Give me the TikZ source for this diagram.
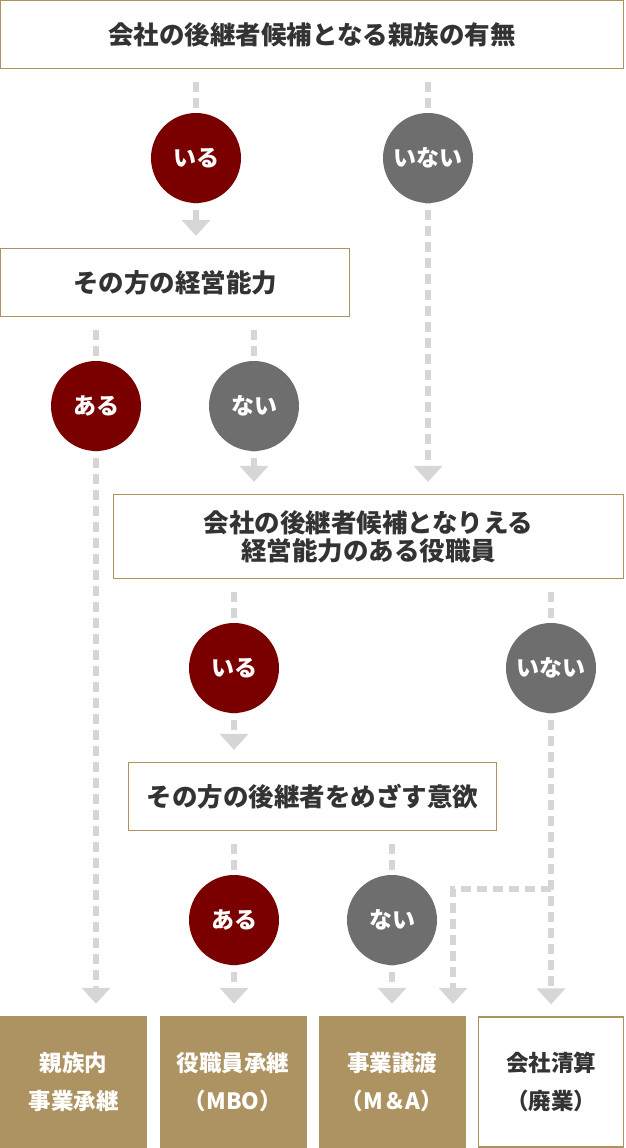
\documentclass[tikz,border=0pt]{standalone}
\usepackage{fontspec}
\setmainfont{Noto Sans CJK JP}
\usetikzlibrary{arrows.meta}
\definecolor{gold}{HTML}{AD9361}
\definecolor{wine}{HTML}{7A0000}
\definecolor{slate}{HTML}{6E6E6E}
\definecolor{lightline}{HTML}{D6D6D6}
\definecolor{ink}{HTML}{333333}
\pgfdeclarelayer{bg}
\pgfsetlayers{bg,main}
\begin{document}
\begin{tikzpicture}[x=1pt,y=-1pt,
  qbox/.style={draw=gold,line width=1.2pt,fill=white,text=ink,font=\fontsize{25.5}{28}\selectfont\bfseries,align=center,inner sep=0pt},
  ans/.style={circle,minimum size=90pt,inner sep=0pt,text=white,font=\fontsize{23}{26}\selectfont\bfseries},
  yesc/.style={ans,fill=wine},
  noc/.style={ans,fill=slate},
  flow/.style={draw=lightline,line width=6pt,dash pattern=on 10pt off 6pt,-{Triangle[width=28pt,length=16pt]},shorten <=13pt,shorten >=12pt},
  res/.style={minimum width=147pt,minimum height=132pt,inner sep=0pt,align=center,font=\fontsize{22.5}{38}\selectfont\bfseries}]
\useasboundingbox (0,0) rectangle (625,1148);

\node[qbox,minimum width=623pt,minimum height=68pt] (top) at (312,34.5) {会社の後継者候補となる親族の有無};
\node[qbox,minimum width=349pt,minimum height=68pt] (q2) at (175,282.5) {その方の経営能力};
\node[qbox,minimum width=510pt,minimum height=84pt] (q3) at (368.5,536.5) {会社の後継者候補となりえる\\経営能力のある役職員};
\node[qbox,minimum width=368pt,minimum height=68pt] (q4) at (312.5,796.5) {その方の後継者をめざす意欲};

\node[res,fill=gold,text=white] (r1) at (73.5,1082) {親族内\\事業承継};
\node[res,fill=gold,text=white] (r2) at (233,1082) {役職員承継\\（MBO）};
\node[res,fill=gold,text=white] (r3) at (392,1082) {事業譲渡\\（M＆A）};
\node[res,draw=gold,line width=1.2pt,fill=white,text=ink,minimum width=145pt,minimum height=130pt] (r4) at (551,1082) {会社清算\\（廃業）};

\node[yesc] (c1) at (196,158) {いる};
\node[noc] (c2) at (428,158) {いない};
\node[yesc] (c3) at (96,406) {ある};
\node[noc] (c4) at (254,406) {ない};
\node[yesc] (c5) at (234,668) {いる};
\node[noc] (c6) at (551,668) {いない};
\node[yesc] (c7) at (234,920) {ある};
\node[noc] (c8) at (392,920) {ない};

\coordinate (j) at (551,889);
\coordinate (k) at (453,889);

\begin{pgfonlayer}{bg}
\draw[flow] (c1 |- top.south) -- (c1 |- q2.north);
\draw[flow] (c2 |- top.south) -- (c2 |- q3.north);
\draw[flow] (c3 |- q2.south) -- (c3 |- r1.north);
\draw[flow] (c4 |- q2.south) -- (c4 |- q3.north);
\draw[flow] (c5 |- q3.south) -- (c5 |- q4.north);
\draw[flow] (c6 |- q3.south) -- (c6 |- r4.north);
\draw[flow] (c7 |- q4.south) -- (c7 |- r2.north);
\draw[flow] (c8 |- q4.south) -- (c8 |- r3.north);
\draw[flow,shorten <=0pt] (j) -- (k) -- (k |- r3.north);
\end{pgfonlayer}
\end{tikzpicture}
\end{document}
